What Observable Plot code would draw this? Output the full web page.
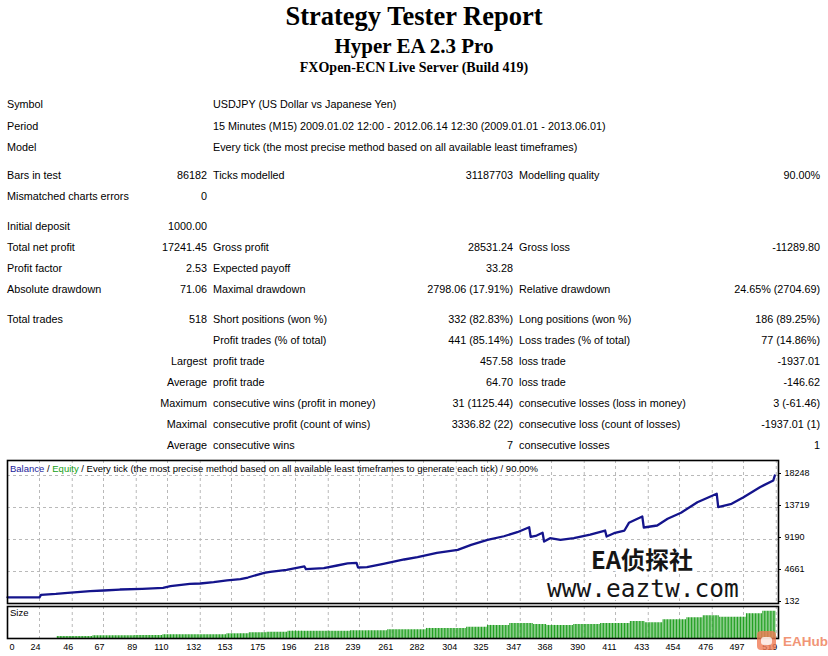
<!DOCTYPE html>
<html>
<head>
<meta charset="utf-8">
<script src="https://cdn.jsdelivr.net/npm/d3@7"></script>
<script src="https://cdn.jsdelivr.net/npm/@observablehq/plot@0.6"></script>
<style>
  html, body { margin: 0; padding: 0; background: #fff; }
  #page { position: relative; width: 828px; height: 656px; overflow: hidden; background: #fff; }
  .abs { position: absolute; left: 0; }
</style>
</head>
<body>
<div id="page"></div>
<script>
// ---------------- DATA ----------------
const titleLines = ["Strategy Tester Report", "Hyper EA 2.3 Pro", "FXOpen-ECN Live Server (Build 419)"];

const infoLabels = ["Symbol", "Period", "Model"];
const infoValues = [
  "USDJPY (US Dollar vs Japanese Yen)",
  "15 Minutes (M15) 2009.01.02 12:00 - 2012.06.14 12:30 (2009.01.01 - 2013.06.01)",
  "Every tick (the most precise method based on all available least timeframes)"
];

const statRows = [
  ["Bars in test", "86182", "Ticks modelled", "31187703", "Modelling quality", "90.00%"],
  ["Mismatched charts errors", "0", "", "", "", ""],
  ["Initial deposit", "1000.00", "", "", "", ""],
  ["Total net profit", "17241.45", "Gross profit", "28531.24", "Gross loss", "-11289.80"],
  ["Profit factor", "2.53", "Expected payoff", "33.28", "", ""],
  ["Absolute drawdown", "71.06", "Maximal drawdown", "2798.06 (17.91%)", "Relative drawdown", "24.65% (2704.69)"],
  ["Total trades", "518", "Short positions (won %)", "332 (82.83%)", "Long positions (won %)", "186 (89.25%)"],
  ["", "", "Profit trades (% of total)", "441 (85.14%)", "Loss trades (% of total)", "77 (14.86%)"],
  ["", "Largest", "profit trade", "457.58", "loss trade", "-1937.01"],
  ["", "Average", "profit trade", "64.70", "loss trade", "-146.62"],
  ["", "Maximum", "consecutive wins (profit in money)", "31 (1125.44)", "consecutive losses (loss in money)", "3 (-61.46)"],
  ["", "Maximal", "consecutive profit (count of wins)", "3336.82 (22)", "consecutive loss (count of losses)", "-1937.01 (1)"],
  ["", "Average", "consecutive wins", "7", "consecutive losses", "1"]
];

const legendParts = ["Balance", " / ", "Equity", " / Every tick (the most precise method based on all available least timeframes to generate each tick) / 90.00%"];
const sizeLabel = "Size";

// balance curve (trade number, balance)
const balTrade = [0, 24, 25, 35, 43, 58, 67, 78, 93, 107, 112, 125, 132, 141, 150, 159, 164, 175, 179, 190, 202, 203, 215, 224, 231, 237, 238, 244, 255, 269, 278, 291, 305, 314, 325, 336, 345, 353, 354, 358, 362, 363, 367, 374, 383, 394, 404, 405, 410, 417, 420, 429, 430, 439, 446, 455, 466, 479, 480, 489, 497, 508, 517, 518];
const balValue = [1000, 1000, 1360, 1500, 1650, 1880, 1970, 2110, 2210, 2350, 2580, 2920, 2960, 3150, 3390, 3570, 3810, 4480, 4600, 4900, 5370, 5000, 5130, 5510, 5800, 5890, 5230, 5270, 5750, 6360, 6680, 7300, 7730, 8440, 9150, 9650, 10220, 10930, 9570, 9750, 10140, 8900, 9370, 9140, 9370, 9890, 10460, 9610, 10080, 10460, 11550, 12440, 10890, 11170, 12120, 12970, 14470, 15660, 13760, 14240, 15170, 16590, 17540, 18241];

// lot size runs (first trade of run, lots)
const sizeRunStart = [36, 60, 88, 107, 150, 165, 177, 191, 233, 258, 284, 311, 325, 340, 356, 365, 383, 401, 421, 431, 443, 459, 470, 481, 499, 510];
const sizeRunLots  = [0.13, 0.18, 0.2, 0.25, 0.31, 0.38, 0.42, 0.49, 0.51, 0.58, 0.67, 0.75, 0.87, 1.0, 0.93, 0.87, 0.93, 1.0, 1.13, 1.05, 1.25, 1.38, 1.51, 1.42, 1.65, 1.82];
const lastTrade = 518;

const xTicks = [0, 24, 46, 67, 89, 110, 132, 153, 175, 196, 218, 239, 261, 282, 304, 325, 347, 368, 390, 411, 433, 454, 476, 497, 519];
const yTicks = [132, 4661, 9190, 13719, 18248];

const watermark1 = "EA侦探社";
const watermark2 = "www.eaztw.com";
const brand = "EAHub";

// ---------------- LAYOUT ----------------
const page = document.getElementById("page");
const BODY_FONT = '"Liberation Sans", Arial, sans-serif';
const SERIF = '"Liberation Serif", "Times New Roman", serif';

// header svg
const hdr = d3.create("svg").attr("width", 828).attr("height", 455)
  .attr("class", "abs").style("top", "0px");
const titleY = [25, 53, 72], titleSize = [26.5, 21, 14];
titleLines.forEach((t, i) => {
  hdr.append("text").attr("x", 414).attr("y", titleY[i]).attr("text-anchor", "middle")
    .attr("font-family", SERIF).attr("font-weight", "bold").attr("font-size", titleSize[i])
    .attr("fill", "#000").text(t);
});
const FS = 10.8, BASE = 3.8;
const infoY = [104, 126, 147];
infoLabels.forEach((t, i) => {
  hdr.append("text").attr("x", 7).attr("y", infoY[i] + BASE).attr("font-family", BODY_FONT)
    .attr("font-size", FS).text(t);
  hdr.append("text").attr("x", 213).attr("y", infoY[i] + BASE).attr("font-family", BODY_FONT)
    .attr("font-size", FS).text(infoValues[i]);
});
const rowY = [175, 196, 226, 247, 268, 289, 319, 340, 361, 382, 403, 424, 445];
const colX = [7, 207, 213, 513, 519, 820];
const colAnchor = ["start", "end", "start", "end", "start", "end"];
statRows.forEach((row, r) => {
  row.forEach((cell, c) => {
    if (!cell) return;
    hdr.append("text").attr("x", colX[c]).attr("y", rowY[r] + BASE)
      .attr("text-anchor", colAnchor[c]).attr("font-family", BODY_FONT)
      .attr("font-size", FS).text(cell);
  });
});
page.appendChild(hdr.node());

// ---------------- MAIN CHART ----------------
const balance = balTrade.map((t, i) => ({trade: t, balance: balValue[i]}));
const gridStyle = {stroke: "#b9b9b9", strokeOpacity: 1, strokeDasharray: "3,3", strokeWidth: 1};
const AX_FONT = '"Liberation Sans", Arial, sans-serif';

const mainChart = Plot.plot({
  width: 828, height: 150,
  marginLeft: 7, marginRight: 50, marginTop: 5, marginBottom: 2,
  style: {fontFamily: AX_FONT, fontSize: "9px", color: "#000", background: "transparent", overflow: "visible"},
  x: {domain: [2.5, 520.5], clamp: true, axis: null},
  y: {domain: [132, 20371], label: null},
  marks: [
    Plot.gridX(xTicks.filter(d => d > 0), gridStyle),
    Plot.gridY(yTicks.filter(d => d > 132), gridStyle),
    Plot.line(balance, {x: "trade", y: "balance", stroke: "#14148c", strokeWidth: 2.3}),
    Plot.frame({stroke: "#000", strokeWidth: 1.6}),
    Plot.axisY(yTicks, {anchor: "right", label: null, tickSize: 2, tickPadding: 4, dy: -2, tickFormat: d => String(d)})
  ]
});
mainChart.classList.add("abs");
mainChart.style.top = "455px";
page.appendChild(mainChart);

// ---------------- SIZE CHART ----------------
const sizeData = [];
sizeRunStart.forEach((s, i) => {
  const e = i + 1 < sizeRunStart.length ? sizeRunStart[i + 1] - 1 : lastTrade;
  for (let t = s; t <= e; t++) sizeData.push({trade: t, lots: sizeRunLots[i]});
});

const sizeChart = Plot.plot({
  width: 828, height: 51,
  marginLeft: 7, marginRight: 50, marginTop: 1, marginBottom: 18,
  style: {fontFamily: AX_FONT, fontSize: "9px", color: "#000", background: "transparent", overflow: "visible"},
  x: {domain: [2.5, 520.5], clamp: true, label: null},
  y: {domain: [0, 2.13], axis: null},
  marks: [
    Plot.gridX(xTicks.filter(d => d > 0), gridStyle),
    Plot.ruleX(sizeData, {x: "trade", y1: 0, y2: "lots", stroke: "#22a022", strokeWidth: 1.1}),
    Plot.frame({stroke: "#000", strokeWidth: 1.6}),
    Plot.axisX(xTicks.filter(d => d > 0), {label: null, tickSize: 0, tickPadding: 5, textAnchor: "end", dx: 1, tickFormat: d => String(d)}),
    Plot.axisX(xTicks.filter(d => d === 0), {label: null, tickSize: 0, tickPadding: 5, textAnchor: "start", dx: 2, tickFormat: d => String(d)})
  ]
});
sizeChart.classList.add("abs");
sizeChart.style.top = "605px";
page.appendChild(sizeChart);

// ---------------- OVERLAYS ----------------
const ov = d3.create("svg").attr("width", 828).attr("height", 656)
  .attr("class", "abs").style("top", "0px").style("pointer-events", "none");
// legend line
const leg = ov.append("text").attr("x", 10).attr("y", 471.5).attr("font-family", AX_FONT).attr("font-size", 9.5);
const legColors = ["#1a1a9a", "#000", "#16a016", "#000"];
legendParts.forEach((p, i) => leg.append("tspan").attr("fill", legColors[i]).text(p));
// size label
ov.append("text").attr("x", 10).attr("y", 616).attr("font-family", AX_FONT).attr("font-size", 9.5).text(sizeLabel);
// watermark
ov.append("text").attr("x", 642).attr("y", 569).attr("text-anchor", "middle")
  .attr("font-family", '"Noto Sans CJK SC", sans-serif').attr("font-weight", 700).attr("font-size", 24)
  .attr("fill", "#161616").attr("stroke", "#fff").attr("stroke-width", 6).attr("paint-order", "stroke")
  .attr("stroke-linejoin", "round").text(watermark1);
ov.append("text").attr("x", 643).attr("y", 597).attr("text-anchor", "middle")
  .attr("font-family", '"DejaVu Sans Mono", monospace').attr("font-size", 24.5)
  .attr("fill", "#161616").attr("stroke", "#fff").attr("stroke-width", 6).attr("paint-order", "stroke")
  .attr("stroke-linejoin", "round").text(watermark2);
// brand badge
ov.append("rect").attr("x", 757).attr("y", 631).attr("width", 19).attr("height", 19).attr("rx", 4)
  .attr("fill", "#f07a55").attr("opacity", 0.8);
ov.append("rect").attr("x", 761).attr("y", 637).attr("width", 11).attr("height", 8).attr("rx", 3)
  .attr("fill", "#fff").attr("opacity", 0.8);
ov.append("text").attr("x", 783).attr("y", 646).attr("font-family", '"Liberation Sans Narrow", "Liberation Sans", sans-serif')
  .attr("font-weight", "bold").attr("font-size", 13.5).attr("fill", "#f08a68").attr("opacity", 0.9).text(brand);
page.appendChild(ov.node());
</script>
</body>
</html>
